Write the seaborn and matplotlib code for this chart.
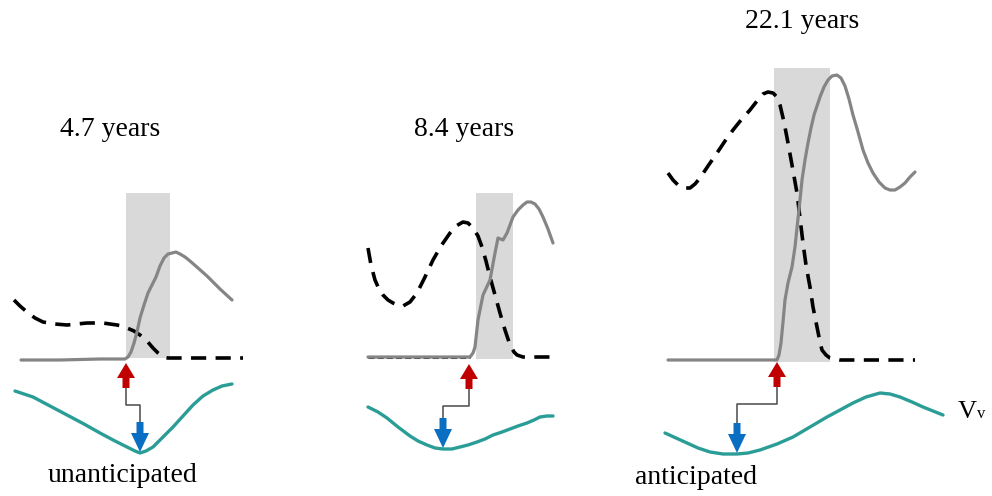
import matplotlib
matplotlib.use("Agg")
import matplotlib.pyplot as plt
import seaborn as sns

# ---- traces (x: time position, y: screen height, both in figure pixels) ----
# Panel 1 : 4.7 years (unanticipated)
p1_flow_x = [21, 60, 100, 125, 128, 131, 134, 137, 140, 144, 148, 152, 156, 160, 164, 168, 172, 176,
             180, 185, 190, 198, 207, 220, 232]
p1_flow_y = [360, 360, 359, 359, 357, 352, 343, 332, 318, 305, 293, 285, 277, 266, 258, 254, 253, 252,
             254, 257, 261, 268, 276, 289, 300]
p1_press_x = [14, 20, 27, 35, 43, 55, 67, 77, 87, 95, 103, 110, 117, 122, 127, 134, 140, 147, 153, 158,
              163, 168, 243]
p1_press_y = [300, 306, 312, 318, 322, 324, 325, 324, 323, 323, 323, 324, 325, 326, 328, 331, 335, 341,
              348, 353, 357, 358, 358]
p1_vv_x = [15, 33, 50, 67, 84, 100, 115, 127, 135, 140, 146, 153, 163, 173, 183, 193, 203, 213, 222, 232]
p1_vv_y = [391, 397, 406, 415, 424, 433, 441, 447, 451, 453, 451, 447, 437, 427, 416, 405, 396, 390, 386, 384]
p1_window = (126, 170, 193, 358)
p1_onset = (126, 363)
p1_vv_event = (140, 452)

# Panel 2 : 8.4 years
p2_flow_x = [368, 420, 470, 473, 475, 478, 483, 490, 495, 498, 503, 507, 513, 518, 523, 527, 531, 535,
             539, 543, 548, 553]
p2_flow_y = [357, 357, 357, 353, 347, 320, 295, 280, 253, 238, 240, 233, 217, 210, 205, 202, 202, 204,
             209, 217, 229, 243]
p2_press_x = [368, 371, 375, 379, 383, 388, 393, 398, 403, 410, 417, 425, 433, 441, 450, 456, 463, 468,
              473, 478, 482, 486, 490, 495, 500, 505, 510, 514, 517, 523, 555]
p2_press_y = [248, 265, 280, 289, 295, 300, 303, 305, 306, 302, 293, 277, 260, 246, 233, 226, 222, 223,
              228, 236, 247, 261, 277, 295, 313, 330, 345, 352, 355, 357, 357]
p2_base_x = [368, 470]
p2_base_y = [357, 357]
p2_vv_x = [368, 378, 387, 398, 410, 418, 427, 435, 443, 452, 460, 468, 477, 485, 493, 502, 510, 518,
           527, 534, 540, 547, 553]
p2_vv_y = [407, 412, 418, 427, 436, 441, 445, 448, 449, 449, 447, 445, 442, 439, 435, 432, 429, 426,
           423, 420, 417, 416, 416]
p2_window = (476, 513, 193, 359)
p2_onset = (469, 364)
p2_vv_event = (443, 448)

# Panel 3 : 22.1 years (anticipated)
p3_flow_x = [668, 720, 777, 779, 781, 783, 785, 788, 792, 795, 797, 800, 802, 805, 808, 811, 814, 817,
             820, 824, 828, 832, 837, 841, 845, 849, 853, 858, 863, 868, 873, 879, 885, 890, 895, 900,
             905, 910, 915]
p3_flow_y = [360, 360, 360, 355, 343, 322, 300, 283, 267, 247, 228, 200, 180, 160, 143, 128, 115, 106,
             97, 87, 80, 76, 75, 78, 86, 99, 115, 132, 150, 163, 173, 182, 188, 190, 190, 187,
             183, 177, 172]
p3_press_x = [668, 673, 678, 684, 690, 695, 700, 708, 717, 725, 733, 741, 750, 757, 763, 768, 773, 777,
              780, 784, 788, 792, 797, 800, 803, 806, 810, 813, 817, 820, 822, 826, 830, 840, 915]
p3_press_y = [173, 180, 185, 188, 188, 184, 178, 166, 153, 141, 130, 120, 110, 101, 94, 92, 93, 97,
              105, 122, 143, 165, 193, 218, 243, 265, 287, 307, 327, 342, 350, 355, 358, 360, 360]
p3_vv_x = [665, 676, 687, 698, 710, 723, 737, 748, 760, 777, 793, 810, 827, 840, 853, 866, 880, 890,
           900, 912, 923, 933, 943]
p3_vv_y = [433, 438, 443, 448, 452, 454, 454, 453, 450, 444, 437, 427, 417, 410, 403, 397, 393, 394,
           397, 402, 407, 411, 415]
p3_window = (774, 830, 68, 362)
p3_onset = (777, 362)
p3_vv_event = (737, 453)

panel_titles = ["4.7 years", "8.4 years", "22.1 years"]
title_pos = [(110, 129), (464, 129), (802, 22)]
timing_labels = ["unanticipated", "anticipated"]
timing_pos = [(123, 475), (696, 477)]

# ---- styling ----
FLOW_C = "#858585"
PRESS_C = "#000000"
VV_C = "#2a9d97"
WIN_C = "#d9d9d9"
RED = "#c00000"
BLUE = "#0a6fc2"
LINK_C = "#4a4a4a"

sns.set_theme(style="white")
plt.rcParams["font.family"] = ["Liberation Serif", "DejaVu Serif"]

fig = plt.figure(figsize=(9.92, 4.96), dpi=100)
ax = fig.add_axes([0, 0, 1, 1])
ax.set_xlim(0, 992)
ax.set_ylim(496, 0)
ax.axis("off")

panels = [
    (p1_flow_x, p1_flow_y, p1_press_x, p1_press_y, p1_vv_x, p1_vv_y, p1_window, p1_onset, p1_vv_event),
    (p2_flow_x, p2_flow_y, p2_press_x, p2_press_y, p2_vv_x, p2_vv_y, p2_window, p2_onset, p2_vv_event),
    (p3_flow_x, p3_flow_y, p3_press_x, p3_press_y, p3_vv_x, p3_vv_y, p3_window, p3_onset, p3_vv_event),
]

dash = (0, (4.2, 2.6))

for i, (fx, fy, px, py, vx, vy, win, onset, ev) in enumerate(panels):
    x0, x1, y0, y1 = win
    ax.axvspan(x0, x1, ymin=1 - y1 / 496, ymax=1 - y0 / 496, color=WIN_C, lw=0, zorder=0)

    if i == 1:
        sns.lineplot(x=p2_base_x, y=p2_base_y, ax=ax, color="#222222", lw=2.2,
                     linestyle=(0, (2, 1)), estimator=None, sort=False, zorder=1)
    sns.lineplot(x=px, y=py, ax=ax, color=PRESS_C, lw=2.6, linestyle=dash,
                 estimator=None, sort=False, zorder=2)
    sns.lineplot(x=fx, y=fy, ax=ax, color=FLOW_C, lw=2.3,
                 estimator=None, sort=False, zorder=3)
    sns.lineplot(x=vx, y=vy, ax=ax, color=VV_C, lw=2.4,
                 estimator=None, sort=False, zorder=3)

    # onset arrow (red, pointing up) and Vv event arrow (blue, pointing down)
    ox, oy = onset
    ex, ey = ev
    r_base = oy + 25
    b_top = ey - 30
    ax.arrow(ox, r_base, 0, oy - r_base, width=7, head_width=18, head_length=15,
             length_includes_head=True, color=RED, lw=0, zorder=4)
    ax.arrow(ex, b_top, 0, ey - b_top, width=7, head_width=18, head_length=19,
             length_includes_head=True, color=BLUE, lw=0, zorder=4)
    mid = r_base + 17
    ax.plot([ox, ox, ex, ex], [r_base, mid, mid, b_top], color=LINK_C, lw=1.1, zorder=3)

for t, (tx, ty) in zip(panel_titles, title_pos):
    ax.text(tx, ty, t, fontsize=20, ha="center", va="center", color="black")
for t, (tx, ty) in zip(timing_labels, timing_pos):
    ax.text(tx, ty, t, fontsize=20, ha="center", va="center", color="black")

ax.text(958, 418, "V", fontsize=19, ha="left", va="baseline", color="black")
ax.text(977, 418, "v", fontsize=12, ha="left", va="baseline", color="black")

fig.savefig("out.png", dpi=100)
